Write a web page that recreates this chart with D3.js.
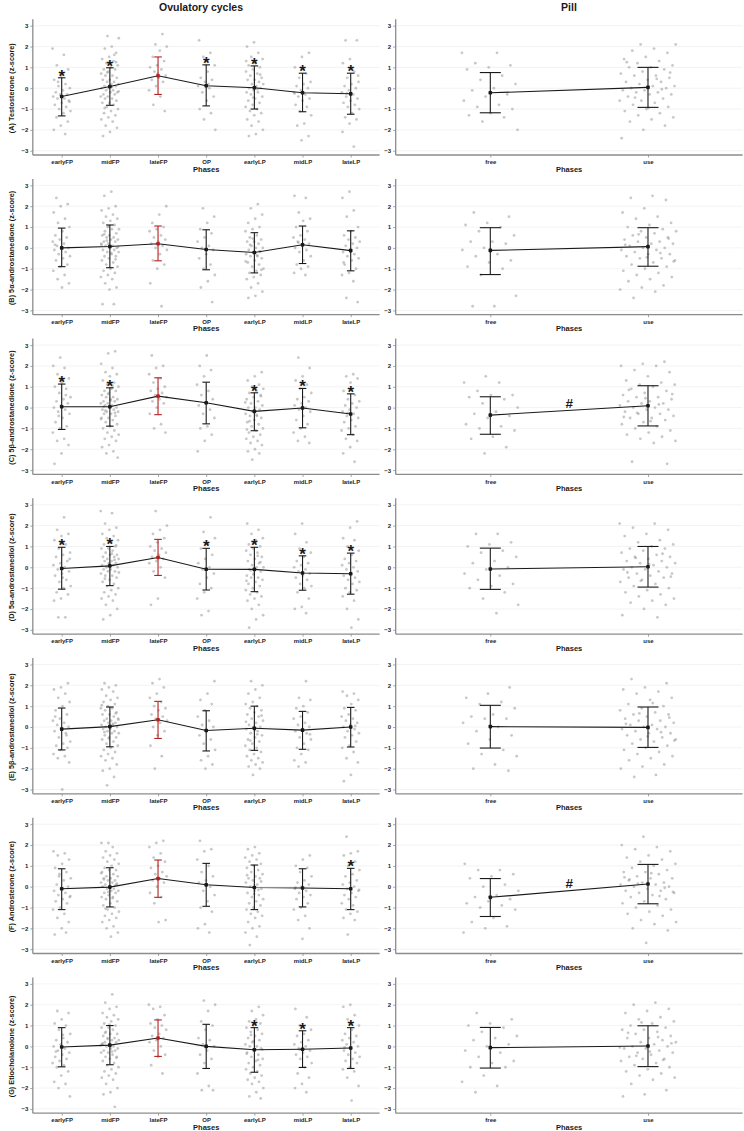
<!DOCTYPE html>
<html><head><meta charset="utf-8">
<script src="https://cdn.jsdelivr.net/npm/d3@7"></script>
<style>body{margin:0;background:#fff}svg{display:block}text{font-family:"Liberation Sans",Arial,sans-serif}</style>
</head><body>
<script>
const phases = ["earlyFP","midFP","lateFP","OP","earlyLP","midLP","lateLP"];
const pillPhases = ["free","use"];
const yTicks = [-3,-2,-1,0,1,2,3];
const rowLabels = ["(A) Testosterone (z-score)","(B) 5α-androstanedione (z-score)","(C) 5β-androstanedione (z-score)","(D) 5α-androstanediol (z-score)","(E) 5β-androstanediol (z-score)","(F) Androsterone (z-score)","(G) Etiocholanolone (z-score)"];
const highlightPhase = "lateFP";

// means and mean ± SD, cycles (rows A..G, phases in order)
const cycleMean = [
 [-0.40,0.08,0.60,0.12,0.02,-0.22,-0.27],
 [0.00,0.07,0.20,-0.08,-0.22,0.15,-0.13],
 [0.04,0.04,0.55,0.23,-0.18,-0.02,-0.31],
 [-0.06,0.07,0.47,-0.09,-0.10,-0.27,-0.31],
 [-0.10,0.02,0.35,-0.17,-0.06,-0.15,0.00],
 [-0.10,-0.02,0.39,0.09,-0.04,-0.06,-0.10],
 [-0.03,0.06,0.40,0.00,-0.16,-0.14,-0.08]];
const cycleUpper = [
 [0.50,0.98,1.50,1.12,1.07,0.72,0.72],
 [0.95,1.10,1.05,0.87,0.73,1.05,0.82],
 [1.13,0.95,1.43,1.22,0.71,0.92,0.66],
 [0.96,1.00,1.34,0.91,0.96,0.55,0.68],
 [0.91,0.96,1.23,0.78,1.00,0.75,0.94],
 [0.86,0.91,1.28,1.12,1.04,0.86,0.88],
 [0.90,1.00,1.27,1.06,0.90,0.75,0.90]];
const cycleLower = [
 [-1.33,-0.82,-0.30,-0.85,-1.00,-1.13,-1.25],
 [-0.90,-0.95,-0.62,-1.05,-1.20,-0.75,-1.10],
 [-1.05,-0.89,-0.34,-0.78,-1.11,-0.97,-1.30],
 [-1.05,-0.88,-0.39,-1.09,-1.17,-1.10,-1.29],
 [-1.10,-0.95,-0.55,-1.15,-1.12,-1.07,-0.96],
 [-1.10,-0.97,-0.51,-0.94,-1.10,-0.97,-1.10],
 [-0.98,-0.88,-0.48,-1.06,-1.24,-1.01,-1.06]];
const cycleStars = [
 ["earlyFP","midFP","OP","earlyLP","midLP","lateLP"],
 [],
 ["earlyFP","midFP","earlyLP","midLP","lateLP"],
 ["earlyFP","midFP","OP","earlyLP","midLP","lateLP"],
 [],
 ["lateLP"],
 ["earlyLP","midLP","lateLP"]];
const pillMean = [[-0.22,0.04],[-0.12,0.06],[-0.36,0.09],[-0.08,0.03],[0.02,-0.02],[-0.51,0.13],[-0.06,0.02]];
const pillUpper = [[0.75,1.00],[0.97,0.97],[0.52,1.05],[0.92,1.00],[1.04,0.96],[0.39,1.07],[0.91,0.99]];
const pillLower = [[-1.18,-0.92],[-1.28,-0.88],[-1.28,-0.88],[-1.06,-0.95],[-1.01,-0.98],[-1.43,-0.82],[-1.04,-0.97]];
const pillHash = [false,false,true,false,false,true,false];

// individual z-scores (approximate, per phase)
const parse = a => a.map(s => s.split(" ").map(Number));
const cyclePtsA = parse([
"1.9 1.6 1.1 0.9 0.6 0.4 0.2 0.1 0 -0.1 -0.2 -0.3 -0.3 -0.4 -0.5 -0.5 -0.6 -0.7 -0.8 -0.9 -1.0 -1.1 -1.2 -1.4 -1.6 -1.8 -2.0 -2.2 0.3 -0.65",
"2.5 2.4 2.0 1.9 1.7 1.5 1.4 1.3 1.2 1.1 1.0 0.9 0.9 0.8 0.7 0.6 0.6 0.5 0.4 0.4 0.3 0.3 0.2 0.2 0.1 0.1 0 0 -0.1 -0.1 -0.2 -0.2 -0.3 -0.3 -0.4 -0.4 -0.5 -0.5 -0.6 -0.7 -0.7 -0.8 -0.9 -1.0 -1.1 -1.2 -1.3 -1.4 -1.5 -1.6 -1.8 -1.9 -2.1 -2.3 1.6 0.75 -0.15 0.05 -0.95 1.25",
"2.6 2.1 2.0 1.8 1.5 1.3 1.1 1.0 0.9 0.8 0.6 0.5 0.4 0.3 0.1 -0.1 -0.4 -0.8 -1.1 0.7",
"2.3 1.7 1.5 1.1 0.8 0.5 0.4 0.3 0.1 0 -0.2 -0.4 -0.6 -1.0 -1.2 -1.5 -2.0 0.2",
"2.2 2.0 1.7 1.5 1.4 1.2 1.1 1.0 0.9 0.8 0.7 0.6 0.5 0.4 0.4 0.3 0.2 0.2 0.1 0 0 -0.1 -0.2 -0.2 -0.3 -0.4 -0.5 -0.6 -0.7 -0.8 -0.9 -1.0 -1.1 -1.2 -1.3 -1.5 -1.6 -1.8 -2.0 -2.2 -2.3 0.65 -0.45 1.3 -0.05",
"1.7 1.5 1.0 0.7 0.5 0.3 0.2 0.1 0 -0.1 -0.2 -0.3 -0.4 -0.5 -0.6 -0.8 -0.9 -1.1 -1.3 -1.7 -1.8 -2.3 -2.5 -0.25",
"2.3 2.3 1.4 1.2 0.8 0.5 0.3 0.2 0.1 0 -0.1 -0.2 -0.3 -0.4 -0.5 -0.6 -0.7 -0.8 -0.9 -1.0 -1.2 -1.4 -1.5 -1.7 -2.1 -2.8 -0.25 0.6"]);
const pillPtsA = parse([
"1.7 1.7 1.2 1.1 1.0 0.9 0.6 0.4 0.2 0 -0.1 -0.3 -0.4 -0.6 -0.8 -0.9 -1.0 -1.2 -1.3 -1.4 -1.6 -2.0",
"2.1 2.1 1.9 1.8 1.7 1.5 1.4 1.3 1.2 1.1 1.0 1.0 0.9 0.8 0.7 0.6 0.6 0.5 0.4 0.3 0.3 0.2 0.1 0.1 0 0 -0.1 -0.1 -0.2 -0.2 -0.3 -0.3 -0.4 -0.5 -0.6 -0.6 -0.7 -0.8 -0.9 -1.0 -1.1 -1.2 -1.3 -1.4 -1.5 -1.6 -1.8 -2.0 -2.4 0.45 -0.45 0.75 -0.95 1.25 -0.05"]);
const cyclePtsB = parse([
"2.4 2.1 2.0 1.7 1.4 1.2 1.0 0.8 0.6 0.5 0.4 0.3 0.2 0.1 0 0 -0.1 -0.2 -0.3 -0.4 -0.5 -0.6 -0.8 -0.9 -1.1 -1.3 -1.5 -1.7 -1.9 0.15",
"2.7 2.5 2.0 1.9 1.8 1.6 1.5 1.4 1.3 1.2 1.1 1.0 0.9 0.9 0.8 0.7 0.6 0.6 0.5 0.5 0.4 0.4 0.3 0.3 0.2 0.2 0.1 0.1 0 0 -0.1 -0.1 -0.2 -0.2 -0.3 -0.4 -0.4 -0.5 -0.6 -0.7 -0.8 -0.9 -1.0 -1.1 -1.2 -1.3 -1.4 -1.5 -1.7 -1.9 -2.0 -2.7 -2.7 0.35 0.05 -0.25 0.65 -0.55 1.05 0.15",
"2.0 1.6 1.2 1.0 0.9 0.8 0.6 0.5 0.4 0.3 0.2 0.1 0 -0.1 -0.3 -0.6 -0.8 -1.0 -1.7 -2.8",
"1.9 1.5 1.2 0.9 0.7 0.5 0.3 0.1 0 -0.1 -0.3 -0.5 -0.8 -1.0 -1.3 -1.6 -1.9 -2.6",
"2.1 1.9 1.6 1.4 1.2 1.0 0.9 0.8 0.6 0.5 0.4 0.3 0.3 0.2 0.1 0 0 -0.1 -0.2 -0.2 -0.3 -0.4 -0.4 -0.5 -0.6 -0.7 -0.8 -0.9 -1.0 -1.1 -1.2 -1.3 -1.4 -1.5 -1.7 -1.9 -2.1 -2.3 -2.4 -0.15 0.45 -0.65 -0.35 0.15 -1.05",
"2.5 2.4 1.7 1.4 1.3 1.0 0.8 0.6 0.5 0.4 0.3 0.2 0.1 0 -0.1 -0.2 -0.4 -0.6 -0.8 -0.9 -1.0 -1.2 -1.3 0.25",
"2.7 2.4 1.8 1.5 1.0 0.8 0.6 0.5 0.4 0.3 0.2 0.1 0 -0.1 -0.2 -0.3 -0.4 -0.5 -0.6 -0.8 -1.0 -1.2 -1.3 -1.6 -2.4 -2.6 -0.15 -0.7"]);
const pillPtsB = parse([
"1.7 1.5 1.2 1.1 1.0 0.8 0.6 0.3 0.3 0.2 0 -0.1 -0.3 -0.4 -0.6 -0.7 -0.9 -1.0 -1.3 -2.3 -2.8 -2.8",
"2.5 2.4 2.3 1.9 1.7 1.5 1.4 1.2 1.1 1.0 0.9 0.8 0.8 0.7 0.6 0.5 0.5 0.4 0.3 0.3 0.2 0.2 0.1 0 0 -0.1 -0.1 -0.2 -0.3 -0.3 -0.4 -0.5 -0.5 -0.6 -0.7 -0.8 -0.9 -1.0 -1.1 -1.2 -1.3 -1.4 -1.5 -1.6 -1.8 -1.9 -2.0 -2.1 -2.4 0.45 -0.45 0.15 -0.25 0.65 -0.65"]);
const cyclePtsC = parse([
"2.4 2.0 1.9 1.6 1.4 1.2 1.0 0.9 0.7 0.5 0.4 0.3 0.2 0.1 0 -0.1 -0.2 -0.3 -0.5 -0.7 -0.9 -1.0 -1.2 -1.5 -1.6 -1.8 -2.2 -2.7 0.6 -0.4",
"2.7 2.6 2.1 1.9 1.7 1.6 1.5 1.3 1.2 1.1 1.0 0.9 0.8 0.8 0.7 0.6 0.5 0.5 0.4 0.4 0.3 0.3 0.2 0.2 0.1 0.1 0 0 -0.1 -0.1 -0.2 -0.2 -0.3 -0.3 -0.4 -0.5 -0.5 -0.6 -0.7 -0.8 -0.9 -1.0 -1.1 -1.2 -1.3 -1.4 -1.5 -1.6 -1.8 -1.9 -2.1 -2.2 -2.4 0.35 0.05 -0.25 0.65 -0.55 1.05 -0.15",
"2.5 2.0 1.9 1.6 1.4 1.2 1.0 0.9 0.8 0.7 0.6 0.5 0.4 0.3 0.2 0 -0.3 -0.8 -1.0 -1.2",
"2.5 2.0 1.8 1.5 1.1 0.8 0.6 0.4 0.2 0.1 -0.1 -0.3 -0.5 -0.9 -1.0 -1.3 -1.6 -2.1",
"1.7 1.5 1.3 1.1 1.0 0.9 0.8 0.7 0.6 0.5 0.4 0.3 0.2 0.1 0 0 -0.1 -0.2 -0.3 -0.4 -0.4 -0.5 -0.6 -0.7 -0.8 -0.9 -1.0 -1.1 -1.2 -1.3 -1.4 -1.5 -1.6 -1.7 -1.8 -2.0 -2.1 -2.2 -2.5 0.25 -0.35 -0.65 0.55 -0.15 -1.05",
"2.4 1.9 1.5 1.3 1.1 0.9 0.7 0.5 0.4 0.3 0.2 0.1 0 -0.1 -0.2 -0.4 -0.6 -0.8 -1.0 -1.2 -1.4 -1.6 -1.7 0.05",
"1.6 1.5 1.4 1.2 0.8 0.6 0.4 0.3 0.2 0.1 0 -0.1 -0.2 -0.3 -0.4 -0.5 -0.6 -0.7 -0.9 -1.0 -1.1 -1.3 -1.5 -1.6 -1.9 -2.2 -2.6 -0.25"]);
const pillPtsC = parse([
"1.5 1.2 1.2 0.8 0.6 0.6 0.5 0.4 0.2 0 -0.2 -0.3 -0.4 -0.5 -0.8 -0.9 -1.0 -1.1 -1.4 -1.5 -1.9 -2.2",
"2.2 2.1 2.0 2.0 1.8 1.7 1.5 1.3 1.2 1.1 1.1 1.0 0.9 0.8 0.7 0.6 0.5 0.5 0.4 0.3 0.3 0.2 0.2 0.1 0 0 -0.1 -0.1 -0.2 -0.3 -0.3 -0.4 -0.5 -0.5 -0.6 -0.7 -0.8 -0.9 -1.0 -1.1 -1.2 -1.3 -1.4 -1.5 -1.6 -1.7 -2.6 -2.7 0.45 -0.45 0.15 -0.25 0.65 -0.65 0.85"]);
const cyclePtsD = parse([
"2.4 1.8 1.6 1.5 1.3 1.1 0.9 0.7 0.6 0.5 0.3 0.2 0.1 0 -0.1 -0.2 -0.3 -0.4 -0.6 -0.7 -0.9 -1.0 -1.2 -1.3 -1.5 -1.6 -2.4 -2.4 0.4 -0.5",
"2.7 2.6 2.1 1.9 1.8 1.6 1.5 1.4 1.3 1.2 1.1 1.0 0.9 0.9 0.8 0.7 0.6 0.6 0.5 0.5 0.4 0.4 0.3 0.3 0.2 0.2 0.1 0.1 0 0 -0.1 -0.1 -0.2 -0.2 -0.3 -0.4 -0.4 -0.5 -0.6 -0.7 -0.8 -0.9 -1.0 -1.1 -1.2 -1.3 -1.4 -1.5 -1.6 -1.8 -2.0 -2.3 -2.5 0.35 0.05 -0.25 0.65 -0.55 1.05 0.15",
"2.7 2.0 1.8 1.6 1.4 1.2 1.0 0.9 0.8 0.7 0.6 0.5 0.4 0.3 0.2 0 -0.2 -0.5 -1.5 -1.8",
"2.4 1.7 1.4 1.1 0.9 0.6 0.4 0.2 0 -0.1 -0.3 -0.5 -0.8 -1.0 -1.2 -1.5 -2.1 -2.3",
"2.1 1.8 1.6 1.4 1.3 1.1 1.0 0.9 0.8 0.7 0.6 0.5 0.4 0.3 0.2 0.1 0 0 -0.1 -0.2 -0.3 -0.4 -0.5 -0.5 -0.6 -0.7 -0.8 -0.9 -1.0 -1.1 -1.2 -1.3 -1.4 -1.5 -1.6 -1.8 -2.0 -2.3 -2.5 -2.9 0.25 -0.35 -0.65 0.55 -0.15",
"2.1 1.6 1.2 0.9 0.7 0.5 0.3 0.2 0.1 0 -0.1 -0.2 -0.3 -0.4 -0.5 -0.6 -0.8 -0.9 -1.0 -1.2 -1.5 -1.9 -2.0 -2.2",
"2.2 1.9 1.4 1.3 1.0 0.8 0.6 0.4 0.3 0.2 0.1 0 -0.1 -0.2 -0.3 -0.4 -0.5 -0.6 -0.7 -0.8 -1.0 -1.1 -1.2 -1.4 -1.6 -2.0 -2.5 -2.9"]);
const pillPtsD = parse([
"1.6 1.6 1.2 1.1 1.0 0.8 0.7 0.5 0.3 0.2 0 -0.1 -0.3 -0.4 -0.6 -0.8 -0.9 -1.0 -1.2 -1.5 -1.8 -2.2",
"2.1 2.1 1.9 1.8 1.6 1.5 1.3 1.2 1.1 1.0 0.9 0.9 0.8 0.7 0.6 0.5 0.5 0.4 0.3 0.3 0.2 0.2 0.1 0 0 -0.1 -0.1 -0.2 -0.3 -0.3 -0.4 -0.5 -0.5 -0.6 -0.7 -0.8 -0.9 -1.0 -1.1 -1.2 -1.3 -1.4 -1.5 -1.6 -1.7 -1.8 -2.0 -2.3 -2.4 0.45 -0.45 0.15 -0.25 0.65 -0.65"]);
const cyclePtsE = parse([
"2.1 1.9 1.8 1.6 1.4 1.2 1.0 0.8 0.6 0.4 0.3 0.2 0.1 0 -0.1 -0.2 -0.3 -0.5 -0.7 -0.8 -0.9 -1.0 -1.1 -1.3 -1.4 -1.5 -1.7 -3.0 0.5 -0.4",
"2.1 2.0 1.9 1.8 1.7 1.5 1.4 1.3 1.2 1.1 1.0 0.9 0.9 0.8 0.7 0.6 0.6 0.5 0.4 0.4 0.3 0.3 0.2 0.2 0.1 0.1 0 0 -0.1 -0.1 -0.2 -0.2 -0.3 -0.3 -0.4 -0.5 -0.5 -0.6 -0.7 -0.8 -0.9 -1.0 -1.1 -1.2 -1.3 -1.4 -1.5 -1.6 -1.8 -2.0 -2.1 -2.4 -2.8 0.35 0.05 -0.25 0.65 -0.55 1.05 0.15",
"2.3 2.1 1.9 1.6 1.4 1.2 1.0 0.9 0.8 0.6 0.5 0.4 0.3 0.2 0 -0.2 -0.4 -0.9 -1.4 -2.0",
"2.2 1.6 1.3 1.1 0.8 0.5 0.3 0.1 0 -0.2 -0.4 -0.6 -0.8 -1.1 -1.4 -1.6 -1.8 -2.0",
"2.2 2.0 1.8 1.6 1.4 1.2 1.1 1.0 0.9 0.8 0.7 0.6 0.5 0.4 0.3 0.2 0.1 0 0 -0.1 -0.2 -0.3 -0.4 -0.5 -0.6 -0.7 -0.8 -0.9 -1.0 -1.1 -1.2 -1.3 -1.4 -1.5 -1.6 -1.7 -1.8 -1.9 -2.0 -2.3 0.25 -0.35 -0.65 0.55 -0.15",
"2.2 1.4 1.3 1.0 0.9 0.7 0.5 0.4 0.2 0.1 0 -0.1 -0.2 -0.3 -0.5 -0.6 -0.8 -1.0 -1.1 -1.3 -1.6 -1.7 -1.9 -0.35",
"1.7 1.6 1.5 1.3 1.1 0.9 0.8 0.6 0.5 0.4 0.3 0.2 0.1 0 -0.1 -0.2 -0.3 -0.4 -0.5 -0.7 -0.9 -1.0 -1.2 -1.5 -1.7 -2.3 -2.6 0.05"]);
const pillPtsE = parse([
"1.9 1.6 1.4 1.2 1.1 0.9 0.6 0.5 0.4 0.4 0.2 0 -0.2 -0.4 -0.6 -0.8 -1.1 -1.3 -1.4 -1.8 -2.0 -2.1",
"2.3 2.1 1.9 1.8 1.7 1.6 1.4 1.3 1.1 1.0 0.9 0.8 0.7 0.6 0.6 0.5 0.4 0.3 0.3 0.2 0.1 0.1 0 0 -0.1 -0.1 -0.2 -0.3 -0.3 -0.4 -0.5 -0.6 -0.6 -0.7 -0.8 -0.9 -1.0 -1.1 -1.2 -1.3 -1.4 -1.5 -1.6 -1.8 -1.9 -2.0 -2.3 -2.4 0.45 -0.45 0.15 -0.25 0.65 -0.65 1.15"]);
const cyclePtsF = parse([
"1.7 1.6 1.5 1.3 1.1 0.9 0.7 0.6 0.4 0.3 0.1 0 -0.1 -0.2 -0.3 -0.4 -0.5 -0.6 -0.7 -0.8 -1.0 -1.1 -1.3 -1.5 -1.7 -2.0 -2.3 -2.2 0.5 -0.45",
"2.1 2.1 1.9 1.7 1.6 1.5 1.4 1.3 1.2 1.1 1.0 0.9 0.8 0.8 0.7 0.6 0.5 0.5 0.4 0.4 0.3 0.3 0.2 0.2 0.1 0.1 0 0 -0.1 -0.1 -0.2 -0.2 -0.3 -0.3 -0.4 -0.5 -0.5 -0.6 -0.7 -0.8 -0.9 -1.0 -1.1 -1.2 -1.3 -1.4 -1.5 -1.6 -1.7 -1.9 -2.0 -2.2 -2.4 0.35 0.05 -0.25 0.65 -0.55 -1.05 0.15",
"2.2 2.1 1.9 1.6 1.4 1.2 1.0 0.9 0.7 0.6 0.5 0.4 0.3 0.2 0 -0.3 -0.5 -0.8 -1.6 -1.7",
"2.2 1.8 1.7 1.3 1.0 0.7 0.5 0.3 0.2 0 -0.2 -0.4 -0.7 -1.0 -1.2 -1.8 -2.0 -2.2",
"1.9 1.8 1.6 1.5 1.4 1.3 1.2 1.1 1.0 0.9 0.8 0.7 0.6 0.5 0.4 0.4 0.3 0.2 0.1 0 -0.1 -0.2 -0.3 -0.4 -0.5 -0.6 -0.7 -0.8 -0.9 -1.0 -1.1 -1.2 -1.3 -1.4 -1.5 -1.7 -1.9 -2.0 -2.2 -2.4 -2.8 0.25 -0.35 0.55 -0.15",
"1.5 1.3 1.0 0.9 0.7 0.5 0.3 0.2 0.1 0 -0.1 -0.2 -0.3 -0.4 -0.5 -0.6 -0.8 -1.0 -1.1 -1.4 -1.6 -2.0 -2.5 -0.05",
"2.4 1.7 1.6 1.5 1.2 1.0 0.8 0.6 0.5 0.3 0.2 0.1 0 -0.1 -0.2 -0.3 -0.4 -0.5 -0.6 -0.8 -0.9 -1.1 -1.2 -1.3 -1.5 -1.6 -2.3 -0.15"]);
const pillPtsF = parse([
"1.1 0.8 0.8 0.6 0.5 0.4 0.1 0 -0.2 -0.4 -0.5 -0.6 -0.7 -0.8 -0.9 -1.0 -1.1 -1.5 -1.7 -1.9 -2.0 -2.2",
"2.4 2.0 1.9 1.8 1.7 1.5 1.4 1.3 1.2 1.1 1.0 0.9 0.8 0.7 0.7 0.6 0.5 0.4 0.4 0.3 0.2 0.2 0.1 0.1 0 0 -0.1 -0.2 -0.2 -0.3 -0.3 -0.4 -0.5 -0.6 -0.7 -0.8 -0.9 -1.0 -1.1 -1.2 -1.3 -1.4 -1.6 -1.7 -1.8 -2.0 -2.1 -2.7 0.45 -0.45 0.15 -0.25 0.65 0.35 -0.05"]);
const cyclePtsG = parse([
"1.7 1.6 1.3 1.1 1.0 0.8 0.6 0.4 0.3 0.2 0.1 0 -0.1 -0.2 -0.3 -0.4 -0.5 -0.6 -0.7 -0.8 -0.9 -1.0 -1.2 -1.4 -1.7 -1.8 -2.0 -2.4 0.55 -0.25",
"2.5 2.1 1.9 1.8 1.6 1.5 1.4 1.3 1.2 1.1 1.0 0.9 0.9 0.8 0.7 0.6 0.6 0.5 0.4 0.4 0.3 0.3 0.2 0.2 0.1 0.1 0 0 -0.1 -0.1 -0.2 -0.2 -0.3 -0.3 -0.4 -0.5 -0.5 -0.6 -0.7 -0.8 -0.9 -1.0 -1.1 -1.2 -1.3 -1.4 -1.5 -1.6 -1.8 -2.0 -2.2 -2.3 -2.9 0.35 0.05 -0.25 0.65 -0.55 1.05 0.15",
"2.0 1.9 1.8 1.5 1.3 1.1 1.0 0.9 0.8 0.6 0.5 0.4 0.3 0.2 0 -0.2 -0.4 -0.5 -0.9 -1.3",
"2.2 2.0 1.7 1.2 1.0 0.8 0.4 0.3 0.1 0 -0.2 -0.4 -0.6 -0.8 -1.3 -1.9 -2.1 -2.1",
"1.9 1.7 1.5 1.3 1.2 1.1 1.0 0.9 0.8 0.7 0.6 0.5 0.4 0.3 0.2 0.1 0 0 -0.1 -0.2 -0.3 -0.4 -0.5 -0.6 -0.7 -0.8 -0.9 -1.0 -1.1 -1.2 -1.3 -1.4 -1.5 -1.6 -1.7 -1.8 -2.0 -2.2 -2.4 -2.5 0.25 -0.35 -0.65 0.55 -0.15",
"1.8 1.4 1.0 0.8 0.6 0.5 0.3 0.2 0.1 0 -0.1 -0.2 -0.3 -0.4 -0.5 -0.6 -0.8 -1.0 -1.3 -1.5 -1.8 -2.0 -2.2 -0.15",
"2.0 1.9 1.5 1.3 1.0 0.8 0.6 0.5 0.4 0.3 0.2 0.1 0 -0.1 -0.2 -0.3 -0.4 -0.5 -0.6 -0.7 -0.8 -1.0 -1.1 -1.2 -1.5 -1.9 -2.6 -0.05"]);
const pillPtsG = parse([
"1.6 1.3 1.1 1.0 0.9 0.7 0.5 0.4 0.3 0.1 0 -0.2 -0.3 -0.5 -0.7 -0.8 -1.0 -1.0 -1.4 -1.7 -1.9 -2.2",
"2.1 2.0 1.8 1.7 1.6 1.4 1.3 1.2 1.1 1.0 0.9 0.8 0.8 0.7 0.6 0.5 0.4 0.4 0.3 0.2 0.2 0.1 0 0 -0.1 -0.1 -0.2 -0.3 -0.3 -0.4 -0.5 -0.6 -0.6 -0.7 -0.8 -0.9 -1.0 -1.1 -1.2 -1.3 -1.4 -1.5 -1.6 -1.8 -2.1 -2.3 -2.4 0.45 -0.45 0.15 -0.25 0.65 -0.65 1.15 -0.05"]);
const cyclePts = [cyclePtsA,cyclePtsB,cyclePtsC,cyclePtsD,cyclePtsE,cyclePtsF,cyclePtsG];
const pillPts = [pillPtsA,pillPtsB,pillPtsC,pillPtsD,pillPtsE,pillPtsF,pillPtsG];

const W = 744, H = 1131;
const svg = d3.select("body").append("svg").attr("width", W).attr("height", H);
const FONT = '"Liberation Sans",Arial,sans-serif';
const RED = "#b22222", INK = "#1a1a1a", AXIS = "#8c8c8c";

svg.append("text").attr("x", 201).attr("y", 10.5).attr("text-anchor","middle")
  .attr("font-size", 10.5).attr("font-weight","bold").attr("fill", INK).text("Ovulatory cycles");
svg.append("text").attr("x", 569).attr("y", 10.5).attr("text-anchor","middle")
  .attr("font-size", 10.5).attr("font-weight","bold").attr("fill", INK).text("Pill");

const ROW0 = 25.7, ROWSTEP = 159.7, YSPAN = 125;

function panel(r, cats, x, means, uppers, lowers, pts, stars, hash, capHalf, jitterHalf, yLabel) {
  const y3 = ROW0 + ROWSTEP * r;
  const y = d3.scaleLinear().domain([-3, 3]).range([y3 + YSPAN, y3]);
  const x0 = x.range()[0], x1 = x.range()[1];
  const top = y3 - 6.5, bottom = y3 + YSPAN + 4.3;
  const g = svg.append("g");
  // grid
  g.selectAll(null).data(yTicks).join("line")
    .attr("x1", x0).attr("x2", x1).attr("y1", d => y(d)).attr("y2", d => y(d))
    .attr("stroke", "#ebebeb").attr("stroke-width", 0.6);
  // jittered points
  cats.forEach((c, ci) => {
    g.selectAll(null).data(pts[ci]).join("circle")
      .attr("cx", (d, i) => x(c) + (((i * 0.618034 + ci * 0.37 + r * 0.21) % 1) - 0.5) * 2 * jitterHalf)
      .attr("cy", d => y(d)).attr("r", 1.4)
      .attr("fill", "#9a9a9a").attr("fill-opacity", 0.55);
  });
  // mean line
  g.append("path").datum(cats.map((c, i) => [x(c), y(means[i])]))
    .attr("d", d3.line()).attr("fill", "none").attr("stroke", INK).attr("stroke-width", 1.1);
  // error bars
  cats.forEach((c, i) => {
    const col = c === highlightPhase ? RED : INK;
    const cx = x(c);
    g.append("line").attr("x1", cx).attr("x2", cx).attr("y1", y(uppers[i])).attr("y2", y(lowers[i]))
      .attr("stroke", col).attr("stroke-width", 1.1);
    [uppers[i], lowers[i]].forEach(v => g.append("line").attr("x1", cx - capHalf).attr("x2", cx + capHalf)
      .attr("y1", y(v)).attr("y2", y(v)).attr("stroke", col).attr("stroke-width", 1.1));
    g.append("rect").attr("x", cx - 1.8).attr("y", y(means[i]) - 1.8).attr("width", 3.6).attr("height", 3.6).attr("rx", 0.8).attr("fill", col);
    if (stars.includes(c)) {
      g.append("text").attr("x", cx).attr("y", y(uppers[i]) + 4).attr("text-anchor", "middle")
        .attr("font-size", 17).attr("font-weight", "bold").attr("fill", INK).text("*");
    }
  });
  if (hash) {
    const mx = (x(cats[0]) + x(cats[1])) / 2, my = (y(means[0]) + y(means[1])) / 2;
    g.append("text").attr("x", mx).attr("y", my - 2.4).attr("text-anchor", "middle")
      .attr("font-size", 13.5).attr("font-weight", "bold").attr("fill", INK).text("#");
  }
  // axes
  const ya = g.append("g").attr("transform", `translate(${x0},0)`)
    .call(d3.axisLeft(y).tickValues(yTicks).tickSize(2.5).tickPadding(2).tickFormat(d3.format("d")));
  const xa = g.append("g").attr("transform", `translate(0,${bottom})`)
    .call(d3.axisBottom(x).tickSize(2.5).tickPadding(2.5));
  [ya, xa].forEach(a => {
    a.select(".domain").remove();
    a.selectAll(".tick line").attr("stroke", AXIS).attr("stroke-width", 0.8);
    a.selectAll(".tick text").attr("font-family", FONT).attr("font-size", 6).attr("font-weight", "bold").attr("fill", "#262626");
  });
  g.append("line").attr("x1", x0).attr("x2", x0).attr("y1", top).attr("y2", bottom).attr("stroke", AXIS).attr("stroke-width", 1.3);
  g.append("line").attr("x1", x0).attr("x2", x1).attr("y1", bottom).attr("y2", bottom).attr("stroke", AXIS).attr("stroke-width", 1.3);
  g.append("text").attr("x", (x0 + x1) / 2).attr("y", y3 + YSPAN + 20.8).attr("text-anchor", "middle")
    .attr("font-size", 7.5).attr("font-weight", "bold").attr("fill", INK).text("Phases");
  if (yLabel) {
    g.append("text").attr("transform", `translate(13.5,${y3 + YSPAN / 2}) rotate(-90)`).attr("text-anchor", "middle")
      .attr("font-size", 7.3).attr("font-weight", "bold").attr("fill", INK).text(yLabel);
  }
}

const xCycle = d3.scalePoint().domain(phases).range([32.8, 379.6]).padding(0.6);
const xPill = d3.scalePoint().domain(pillPhases).range([395.7, 742.6]).padding(0.6);

rowLabels.forEach((lab, r) => {
  panel(r, phases, xCycle, cycleMean[r], cycleUpper[r], cycleLower[r], cyclePts[r], cycleStars[r], false, 3.8, 0.19 * xCycle.step(), lab);
  panel(r, pillPhases, xPill, pillMean[r], pillUpper[r], pillLower[r], pillPts[r], [], pillHash[r], 10.5, 0.18 * xPill.step(), null);
});
</script>
</body></html>
